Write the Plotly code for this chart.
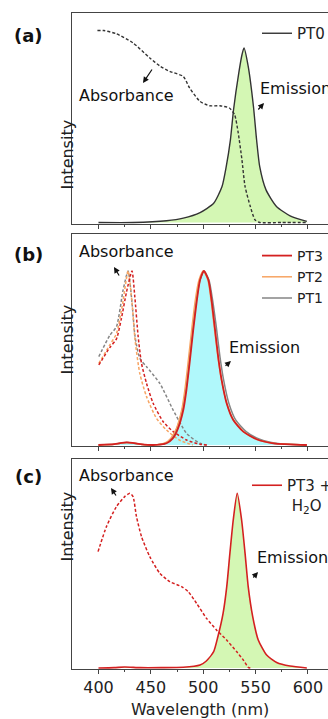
import plotly.graph_objects as go

# ---------------- data ----------------
# Panel (a): PT0
a_em_wl = [400, 433, 465, 481, 497, 510, 518, 522, 526, 529, 534, 537, 539, 543, 548, 551, 554, 560, 570, 583, 599]
a_em_val = [0.0, 0.0, 0.01, 0.025, 0.057, 0.11, 0.206, 0.32, 0.474, 0.646, 0.857, 0.96, 1.0, 0.895, 0.665, 0.474, 0.32, 0.187, 0.092, 0.038, 0.006]
a_abs_wl = [399, 405, 417, 433, 449, 459, 468, 481, 487, 497, 506, 516, 525, 530, 533.5, 537, 540, 545, 549.5, 554, 575, 600]
a_abs_val = [1.10, 1.10, 1.082, 1.029, 0.943, 0.895, 0.866, 0.837, 0.771, 0.694, 0.669, 0.669, 0.656, 0.618, 0.512, 0.36, 0.206, 0.092, 0.015, 0.0, 0.0, 0.0]

# Panel (b): PT3, PT2, PT1
b_em_val = [0, 0.005, 0.015, 0.005, 0, 0.01, 0.038, 0.096, 0.201, 0.316, 0.469, 0.661, 0.833, 0.948, 1.0, 0.948, 0.833, 0.68, 0.508, 0.374, 0.24, 0.144, 0.077, 0.033, 0.01, 0.0]
b_pt3_em_wl = [400, 415, 427, 440, 452, 465, 471, 476, 481, 484, 487, 490.5, 494, 497, 500.7, 505, 508, 511, 514.3, 517.6, 522.4, 528.7, 538.3, 551, 567, 599]
b_pt2_em_wl = [400, 415, 427, 440, 452, 463, 469, 474.5, 479.5, 482.5, 485.5, 489, 492.5, 496, 500, 504.5, 507.5, 510.5, 514, 517.5, 522.5, 529, 538.5, 551, 567, 599]
b_pt1_em_wl = [400, 415, 427, 440, 452, 464, 470, 475, 480, 483.5, 486.5, 490, 493.5, 497, 500.7, 505.5, 509, 512.5, 516, 519.5, 524.5, 531, 541, 554, 570, 599]

b_pt3_abs_wl = [400.3, 410.8, 417.2, 422, 426.8, 432, 434.7, 437.9, 441.1, 445.9, 452.2, 461.8, 471.3, 484.1, 496.8, 505]
b_pt3_abs_val = [0.46, 0.56, 0.61, 0.73, 0.88, 1.0, 0.852, 0.623, 0.469, 0.354, 0.24, 0.134, 0.077, 0.029, 0.004, 0]
b_pt2_abs_wl = [400.3, 410.8, 417.2, 423, 428.3, 432, 435, 439.5, 445.9, 455.4, 465, 477, 490]
b_pt2_abs_val = [0.469, 0.575, 0.64, 0.81, 1.0, 0.82, 0.6, 0.41, 0.278, 0.153, 0.086, 0.029, 0]
b_pt1_abs_wl = [400.3, 410.8, 417.2, 423.5, 428.3, 432, 435, 439.5, 445.9, 458.6, 471.3, 484.1, 496.8, 503]
b_pt1_abs_val = [0.508, 0.63, 0.68, 0.89, 1.0, 0.82, 0.62, 0.498, 0.45, 0.354, 0.201, 0.067, 0.01, 0]

# Panel (c): PT3 + H2O
c_em_wl = [400, 415, 425, 440, 460, 481, 497, 503, 510, 514, 519, 522.5, 525.5, 528.7, 532.5, 536.7, 540, 543, 547.3, 552.6, 560.6, 570.2, 582.9, 599]
c_em_val = [0, 0.002, 0.006, 0.002, 0.002, 0.004, 0.017, 0.04, 0.094, 0.179, 0.313, 0.466, 0.656, 0.847, 1.0, 0.847, 0.656, 0.466, 0.294, 0.16, 0.074, 0.032, 0.011, 0]
c_abs_wl = [399.6, 407.6, 417.2, 425.1, 430, 433, 436.3, 441.1, 449, 458.6, 468.2, 479.3, 485.7, 493.7, 503.2, 512.7, 522.4, 531.9, 538.3, 543, 545]
c_abs_val = [0.666, 0.809, 0.924, 0.981, 1.0, 0.981, 0.866, 0.752, 0.637, 0.542, 0.494, 0.466, 0.437, 0.37, 0.284, 0.218, 0.16, 0.094, 0.046, 0.004, 0]

x_tick_vals = [400, 450, 500, 550, 600]
x_tick_text = ["400", "450", "500", "550", "600"]

# ---------------- styling ----------------
W, H = 328, 719
FONT = "DejaVu Sans"
AX = "#444444"
RED = "#d42020"
ORANGE = "#f7a462"
GREY = "#858585"
DARK = "#333333"
GREEN_FILL = "#d4f7b4"
CYAN_FILL = "#b0f8fb"
DASH = "3px,2px"


def px(x):
    return x / W


def py(y):
    return 1 - y / H


fig = go.Figure()


def line(x, y, color, xa, ya, name=None, dash=None, legend=None, width=1.5, show=False):
    fig.add_trace(go.Scatter(
        x=x, y=y, mode="lines", name=name, xaxis=xa, yaxis=ya,
        line=dict(color=color, width=width, dash=dash, shape="spline", smoothing=0.6),
        showlegend=show, legend=legend, hoverinfo="skip"))


def fill(x, y, color, xa, ya):
    fig.add_trace(go.Scatter(
        x=x, y=y, mode="lines", xaxis=xa, yaxis=ya, fill="tozeroy", fillcolor=color,
        line=dict(width=0, shape="spline", smoothing=0.6), showlegend=False, hoverinfo="skip"))


# Panel a
fill(a_em_wl, a_em_val, GREEN_FILL, "x", "y")
line(a_abs_wl, a_abs_val, DARK, "x", "y", dash=DASH, width=1.4)
line(a_em_wl, a_em_val, DARK, "x", "y", name="PT0", legend="legend", show=True, width=1.4)

# Panel b
fill(b_pt3_em_wl, b_em_val, CYAN_FILL, "x2", "y2")
line(b_pt1_abs_wl, b_pt1_abs_val, GREY, "x2", "y2", dash=DASH)
line(b_pt2_abs_wl, b_pt2_abs_val, ORANGE, "x2", "y2", dash=DASH)
line(b_pt3_abs_wl, b_pt3_abs_val, RED, "x2", "y2", dash=DASH)
line(b_pt1_em_wl, b_em_val, GREY, "x2", "y2", name="PT1", legend="legend2", show=True)
line(b_pt2_em_wl, b_em_val, ORANGE, "x2", "y2", name="PT2", legend="legend2", show=True)
line(b_pt3_em_wl, b_em_val, RED, "x2", "y2", name="PT3", legend="legend2", show=True, width=1.8)

# Panel c
fill(c_em_wl, c_em_val, GREEN_FILL, "x3", "y3")
line(c_abs_wl, c_abs_val, RED, "x3", "y3", dash=DASH)
line(c_em_wl, c_em_val, RED, "x3", "y3", name="PT3 +<br>\u00a0H<sub>2</sub>O", legend="legend3", show=True, width=1.6)

XRANGE = [375, 619.2]
x_dom = [px(72.3), 1.0]
panels = {
    "": ([py(224), py(13)], [-0.0086, 1.2006]),
    "2": ([py(446), py(234)], [-0.0057, 1.2126]),
    "3": ([py(669), py(459)], [-0.0057, 1.196]),
}

layout = dict(
    width=W, height=H, margin=dict(l=0, r=0, t=0, b=0, autoexpand=False),
    paper_bgcolor="white", plot_bgcolor="white",
    font=dict(family=FONT, size=16, color="#222222"),
    showlegend=True,
)
for k, (ydom, yr) in panels.items():
    last = k == "3"
    layout["xaxis" + k] = dict(
        domain=x_dom, range=XRANGE, anchor="y" + k, showgrid=False, zeroline=False,
        showline=True, linecolor=AX, linewidth=1.3, mirror=True,
        ticks="outside", ticklen=4, tickwidth=1.2, tickcolor=AX,
        tickvals=x_tick_vals, ticktext=x_tick_text, showticklabels=last,
        tickfont=dict(size=16, family=FONT, color="#222222"),
        minor=dict(tickvals=[425, 475, 525, 575], ticks="outside", ticklen=2, tickwidth=1, tickcolor=AX),
        title=dict(text="Wavelength (nm)" if last else "", font=dict(size=16, family=FONT), standoff=7),
    )
    layout["yaxis" + k] = dict(
        domain=ydom, range=yr, anchor="x" + k, showgrid=False, zeroline=False,
        showline=True, linecolor=AX, linewidth=1.3, ticks="", showticklabels=False,
    )

leg_common = dict(xanchor="left", yanchor="top", bgcolor="rgba(0,0,0,0)",
                  itemwidth=30, tracegroupgap=0, valign="top")
layout["legend"] = dict(x=px(257), y=py(17), font=dict(size=15, family=FONT, color="#222222"), **leg_common)
layout["legend2"] = dict(x=px(257), y=py(240), traceorder="reversed",
                         font=dict(size=14, family=FONT, color="#222222"), **leg_common)
layout["legend3"] = dict(x=px(247), y=py(469), font=dict(size=15, family=FONT, color="#222222"), **leg_common)

fig.update_layout(**layout)

anns = []


def text(t, x, y, size=16, bold=False, xanchor="center"):
    anns.append(dict(text=f"<b>{t}</b>" if bold else t, x=px(x), y=py(y), xref="paper", yref="paper",
                     showarrow=False, xanchor=xanchor, yanchor="middle",
                     font=dict(size=size, family=FONT, color="#111111")))


def arrow(hx, hy, tx, ty):
    anns.append(dict(text="", x=px(hx), y=py(hy), xref="paper", yref="paper",
                     ax=tx - hx, ay=ty - hy, showarrow=True, arrowhead=2, arrowsize=1,
                     arrowwidth=1.2, arrowcolor="#111111"))


# panel labels
text("(a)", 28, 35, size=18, bold=True)
text("(b)", 28, 255, size=18, bold=True)
text("(c)", 28, 477, size=18, bold=True)
# y titles
for yc in (118, 340, 564):
    anns.append(dict(text="Intensity", x=px(55), y=py(yc), xref="paper", yref="paper",
                     showarrow=False, textangle=-90, font=dict(size=16, family=FONT, color="#222222")))
# callouts
text("Absorbance", 126, 95)
text("Emission", 258, 89, xanchor="left")
arrow(143, 83, 153, 68)
arrow(264, 103, 257, 111)

text("Absorbance", 126, 252)
text("Emission", 227, 347, xanchor="left")
arrow(114, 267, 120, 277)
arrow(231, 361, 224, 367)

text("Absorbance", 126, 475)
text("Emission", 255, 557, xanchor="left")
arrow(111, 488, 117, 497)
arrow(258, 572, 252, 579)

fig.update_layout(annotations=anns)
fig.write_html(
    "out.html",
    config={"displayModeBar": False},
    post_script="document.body.style.margin='0';document.documentElement.style.overflow='hidden';",
)
